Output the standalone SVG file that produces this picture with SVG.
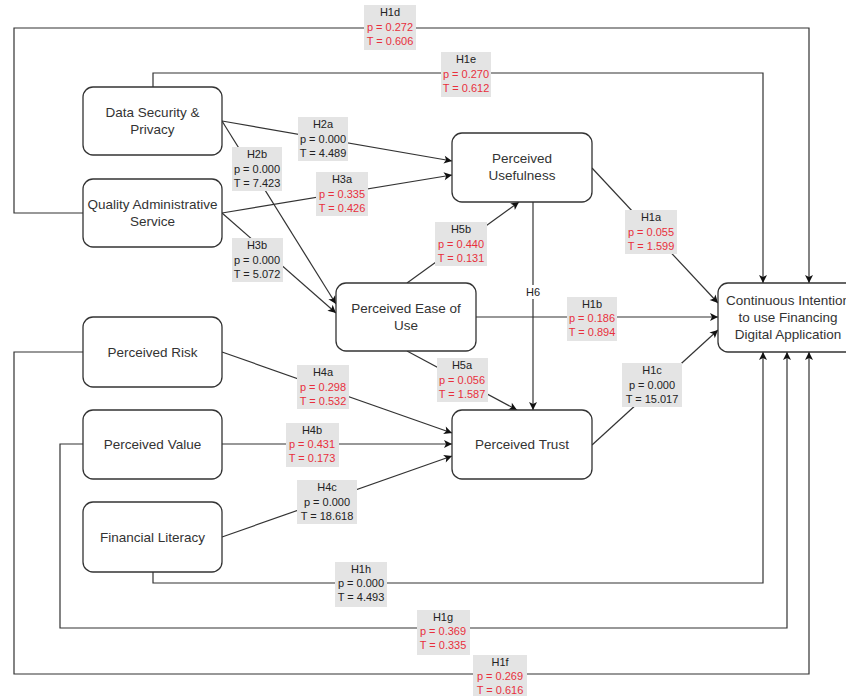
<svg xmlns="http://www.w3.org/2000/svg" width="846" height="696" viewBox="0 0 846 696">
<style>
.node rect{fill:#fff;stroke:#333;stroke-width:1.3}
.node text{font-family:"Liberation Sans",Arial,sans-serif;font-size:13.5px;fill:#333;text-anchor:middle}
.edge{fill:none;stroke:#333;stroke-width:1.2}
.arr{marker-end:url(#ah)}
.lbl rect{fill:#e4e4e4;stroke:none}
.lbl text{font-family:"Liberation Sans",Arial,sans-serif;font-size:11px;text-anchor:middle;fill:#222}
.lbl .r{fill:#e8303c}
</style>
<defs>
<marker id="ah" markerUnits="userSpaceOnUse" markerWidth="10" markerHeight="10" viewBox="0 0 10 10" refX="9" refY="5" orient="auto">
<path d="M1,1 L9,5 L1,9 L3,5 z" fill="#111"/>
</marker>
</defs>
<rect width="846" height="696" fill="#fff"/>
<g id="connectors">
<path class="edge arr" d="M83,213 H14 V28 H809 V283"/>
<path class="edge arr" d="M153,87 V73 H763 V283"/>
<path class="edge arr" d="M153,572 V583 H763 V352"/>
<path class="edge arr" d="M83,444 H60 V628 H787 V352"/>
<path class="edge arr" d="M83,352 H14 V674 H809 V352"/>
<path class="edge arr" d="M222,121 L452,161"/>
<path class="edge arr" d="M222,213 L452,175"/>
<path class="edge arr" d="M222,121 L336,304"/>
<path class="edge arr" d="M222,213 L336,313"/>
<path class="edge arr" d="M407,283 L519,202"/>
<path class="edge arr" d="M533,202 V410"/>
<path class="edge arr" d="M407,351 L517,410"/>
<path class="edge arr" d="M592,168 L718,303"/>
<path class="edge arr" d="M476,317 H718"/>
<path class="edge arr" d="M592,445 L718,330"/>
<path class="edge arr" d="M222,352 L452,433"/>
<path class="edge arr" d="M222,444 H452"/>
<path class="edge arr" d="M222,537 L452,456"/>
</g>
<g id="labels">
<g class="lbl" id="l-h1d"><rect x="364" y="5" width="52" height="45"/><text x="390" y="16">H1d</text><text class="r" x="390" y="31">p = 0.272</text><text class="r" x="390" y="45">T = 0.606</text></g>
<g class="lbl" id="l-h1e"><rect x="441" y="52" width="50" height="45"/><text x="466" y="63">H1e</text><text class="r" x="466" y="78">p = 0.270</text><text class="r" x="466" y="92">T = 0.612</text></g>
<g class="lbl" id="l-h2a"><rect x="298" y="117" width="50" height="44"/><text x="323" y="128">H2a</text><text x="323" y="143">p = 0.000</text><text x="323" y="157">T = 4.489</text></g>
<g class="lbl" id="l-h3a"><rect x="316" y="172" width="52" height="44"/><text x="342" y="183">H3a</text><text class="r" x="342" y="198">p = 0.335</text><text class="r" x="342" y="212">T = 0.426</text></g>
<g class="lbl" id="l-h2b"><rect x="232" y="147" width="50" height="44"/><text x="257" y="158">H2b</text><text x="257" y="173">p = 0.000</text><text x="257" y="187">T = 7.423</text></g>
<g class="lbl" id="l-h3b"><rect x="232" y="238" width="51" height="44"/><text x="257" y="249">H3b</text><text x="257" y="264">p = 0.000</text><text x="257" y="278">T = 5.072</text></g>
<g class="lbl" id="l-h5b"><rect x="435" y="222" width="52" height="44"/><text x="461" y="233">H5b</text><text class="r" x="461" y="248">p = 0.440</text><text class="r" x="461" y="262">T = 0.131</text></g>
<g class="lbl" id="l-h1a"><rect x="625" y="210" width="52" height="44"/><text x="651" y="221">H1a</text><text class="r" x="651" y="236">p = 0.055</text><text class="r" x="651" y="250">T = 1.599</text></g>
<g class="lbl" id="l-h1b"><rect x="567" y="297" width="50" height="44"/><text x="592" y="308">H1b</text><text class="r" x="592" y="322">p = 0.186</text><text class="r" x="592" y="336">T = 0.894</text></g>
<g class="lbl" id="l-h1c"><rect x="622" y="363" width="60" height="44"/><text x="652" y="374">H1c</text><text x="652" y="389">p = 0.000</text><text x="652" y="403">T = 15.017</text></g>
<g class="lbl" id="l-h5a"><rect x="437" y="358" width="51" height="44"/><text x="462" y="369">H5a</text><text class="r" x="462" y="384">p = 0.056</text><text class="r" x="462" y="398">T = 1.587</text></g>
<g class="lbl" id="l-h4a"><rect x="297" y="365" width="52" height="44"/><text x="323" y="376">H4a</text><text class="r" x="323" y="391">p = 0.298</text><text class="r" x="323" y="405">T = 0.532</text></g>
<g class="lbl" id="l-h4b"><rect x="286" y="423" width="53" height="44"/><text x="312" y="434">H4b</text><text class="r" x="312" y="448">p = 0.431</text><text class="r" x="312" y="462">T = 0.173</text></g>
<g class="lbl" id="l-h4c"><rect x="297" y="480" width="60" height="44"/><text x="327" y="491">H4c</text><text x="327" y="506">p = 0.000</text><text x="327" y="520">T = 18.618</text></g>
<g class="lbl" id="l-h1h"><rect x="335" y="562" width="52" height="45"/><text x="361" y="573">H1h</text><text x="361" y="587">p = 0.000</text><text x="361" y="601">T = 4.493</text></g>
<g class="lbl" id="l-h1g"><rect x="417" y="610" width="53" height="45"/><text x="443" y="621">H1g</text><text class="r" x="443" y="635">p = 0.369</text><text class="r" x="443" y="649">T = 0.335</text></g>
<g class="lbl" id="l-h1f"><rect x="473" y="655" width="54" height="41"/><text x="500" y="666">H1f</text><text class="r" x="500" y="680">p = 0.269</text><text class="r" x="500" y="694">T = 0.616</text></g>
<g class="lbl" id="l-h6"><rect x="524" y="285" width="18" height="14" fill="#fff" style="fill:#fff"/><text x="533" y="296">H6</text></g>
</g>
<g id="n-dsp" class="node"><rect x="83" y="87" width="139" height="68" rx="10"/><text x="152.5" y="117">Data Security &amp;</text><text x="152.5" y="134">Privacy</text></g>
<g id="n-qas" class="node"><rect x="83" y="179" width="139" height="68" rx="10"/><text x="152.5" y="209">Quality Administrative</text><text x="152.5" y="226">Service</text></g>
<g id="n-pu" class="node"><rect x="452" y="133" width="140" height="69" rx="10"/><text x="522" y="163">Perceived</text><text x="522" y="180">Usefulness</text></g>
<g id="n-peou" class="node"><rect x="336" y="283" width="140" height="68" rx="10"/><text x="406" y="313">Perceived Ease of</text><text x="406" y="330">Use</text></g>
<g id="n-pt" class="node"><rect x="452" y="410" width="140" height="69" rx="10"/><text x="522" y="449">Perceived Trust</text></g>
<g id="n-ci" class="node"><rect x="718" y="283" width="140" height="69" rx="10"/><text x="788" y="305">Continuous Intention</text><text x="788" y="322">to use Financing</text><text x="788" y="339">Digital Application</text></g>
<g id="n-pr" class="node"><rect x="83" y="317" width="139" height="70" rx="10"/><text x="152.5" y="357">Perceived Risk</text></g>
<g id="n-pv" class="node"><rect x="83" y="410" width="139" height="69" rx="10"/><text x="152.5" y="449">Perceived Value</text></g>
<g id="n-fl" class="node"><rect x="83" y="502" width="139" height="70" rx="10"/><text x="152.5" y="542">Financial Literacy</text></g>
</svg>
